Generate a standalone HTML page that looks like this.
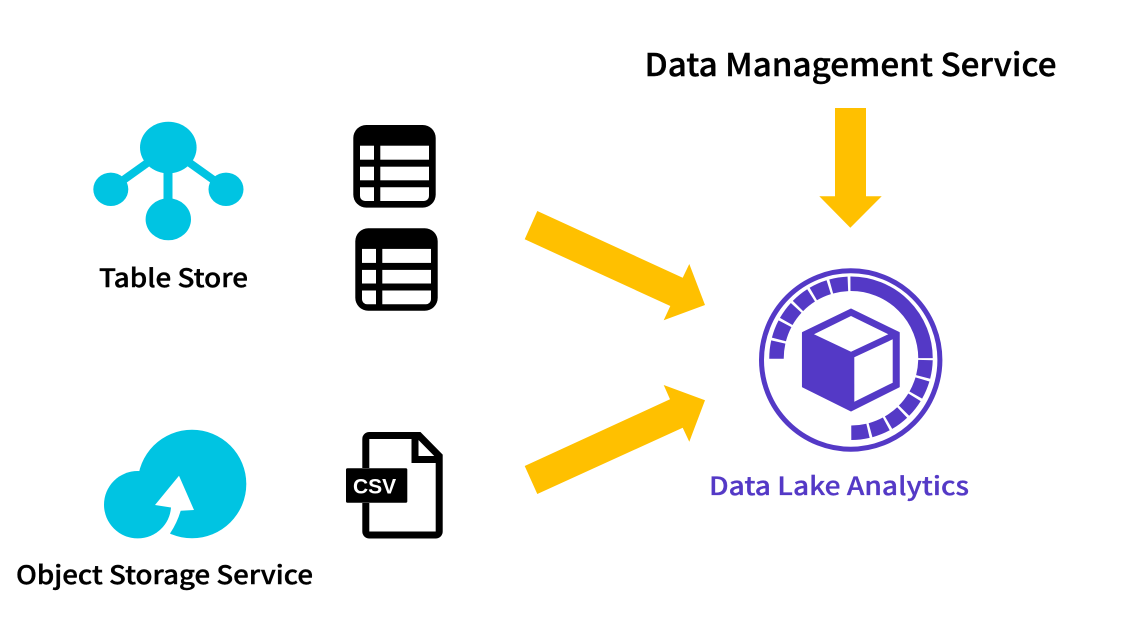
<!DOCTYPE html>
<html><head><meta charset="utf-8"><style>html,body{margin:0;padding:0;background:#fff;width:1123px;height:626px;overflow:hidden}svg{display:block}text{font-family:"Noto Sans CJK JP","Liberation Sans",sans-serif;font-weight:500}.s{stroke:#000;stroke-width:.4px}.p{stroke:#5439C6;stroke-width:.3px}</style></head><body>
<svg width="1123" height="626" viewBox="0 0 1123 626" xmlns="http://www.w3.org/2000/svg">
<defs>
<g id="tbl"><rect width="82.4" height="82.6" rx="13" fill="#000"/>
<g fill="#fff"><rect x="6.7" y="20.7" width="14" height="14"/><rect x="27" y="20.7" width="48.7" height="14"/><rect x="6.7" y="41.7" width="14" height="13.6"/><rect x="27" y="41.7" width="48.7" height="13.6"/><path d="M6.7 62.3h14V76h-9a5 5 0 0 1-5-5z"/><path d="M27 62.3h48.7V71a5 5 0 0 1-5 5H27z"/></g></g>
</defs>
<!-- Table Store -->
<g fill="#00C4E2"><ellipse cx="168.3" cy="147.5" rx="28.3" ry="25.8"/><ellipse cx="110.8" cy="189.3" rx="17.5" ry="16.7"/><ellipse cx="226" cy="189.3" rx="17.5" ry="16.7"/><ellipse cx="168.3" cy="219.3" rx="22.7" ry="21"/></g>
<g stroke="#00C4E2"><line x1="168" y1="150" x2="168" y2="215" stroke-width="9"/><line x1="150" y1="161" x2="115" y2="186" stroke-width="8"/><line x1="187" y1="161" x2="222" y2="186" stroke-width="8"/></g>
<text class="s" x="99" y="287" font-size="25" textLength="149" lengthAdjust="spacingAndGlyphs">Table Store</text>
<use href="#tbl" x="353.3" y="125"/><use href="#tbl" x="355.3" y="228.2"/>
<!-- OSS -->
<circle cx="192" cy="484" r="54.3" fill="#00C4E2"/><circle cx="137.7" cy="504.7" r="33.7" fill="#00C4E2"/>
<path d="M179 475.7L155 505L171 507.500A33.700 33.700 0 0 1 161 529L165 541L170 533.500Q177 523 180.700 510.700L194 510Z" fill="#fff"/>
<!-- CSV -->
<path d="M365.800 468V439a3.500 3.500 0 0 1 3.500-3.500H419L439.200 456V531.500a3.500 3.500 0 0 1-3.500 3.500H369.300a3.500 3.500 0 0 1-3.500-3.500V503" fill="none" stroke="#000" stroke-width="7"/>
<path d="M415 435.500V459.500H439" fill="none" stroke="#000" stroke-width="7"/>
<path d="M418.500 443.500L432.300 456H418.500Z" fill="#fff"/>
<rect x="346" y="468.300" width="61.300" height="34.400" rx="1.500" fill="#000"/>
<text x="353" y="493.300" font-size="21" fill="#fff" style="font-family:'Liberation Sans',sans-serif;font-weight:700">CSV</text>
<text class="s" x="16" y="584" font-size="25" textLength="297" lengthAdjust="spacingAndGlyphs">Object Storage Service</text>
<!-- Arrows -->
<g fill="#FFC000">
<path d="M835 108H866V196.300H881.700L850.300 227.700L819.300 196.300H835Z"/>
<path d="M537.300 211L682.700 277.700L689.300 264L705 305L663.700 320.300L670.300 306L524.700 239.300Z"/>
<path d="M524.700 466L670 399.300L663.700 385L705 400.300L689.300 441.700L682.700 427.700L537.300 494Z"/>
</g>
<text class="s" x="644.500" y="76" font-size="31.500" textLength="412" lengthAdjust="spacingAndGlyphs">Data Management Service</text>
<!-- DLA -->
<circle cx="850.700" cy="360" r="89.200" fill="none" stroke="#5439C6" stroke-width="5"/>
<circle cx="851" cy="358.300" r="74.500" fill="none" stroke="#5439C6" stroke-width="14.500" pathLength="360" transform="rotate(-90 851 358.300)" stroke-dasharray="90 1.500 13.100 2 13.100 2 13.100 2 13.100 2 13.100 2 13 90 13 2 13 2 13 2 13 2 13 2 13 2"/>
<path d="M851 309.300L899 332.700V386.700L851 410.700L802.700 386.700V332.700Z" fill="#5439C6" stroke="#5439C6" stroke-width="1.500" stroke-linejoin="round"/>
<path d="M851 316L888.300 334.300L851 351.700L814 334.300Z" fill="#fff"/>
<path d="M854.300 357.300L892.700 339.300V382.700L854.300 401.700Z" fill="#fff"/>
<text class="p" x="709" y="495" font-size="25" fill="#5439C6" textLength="260" lengthAdjust="spacingAndGlyphs">Data Lake Analytics</text>
</svg>
</body></html>
